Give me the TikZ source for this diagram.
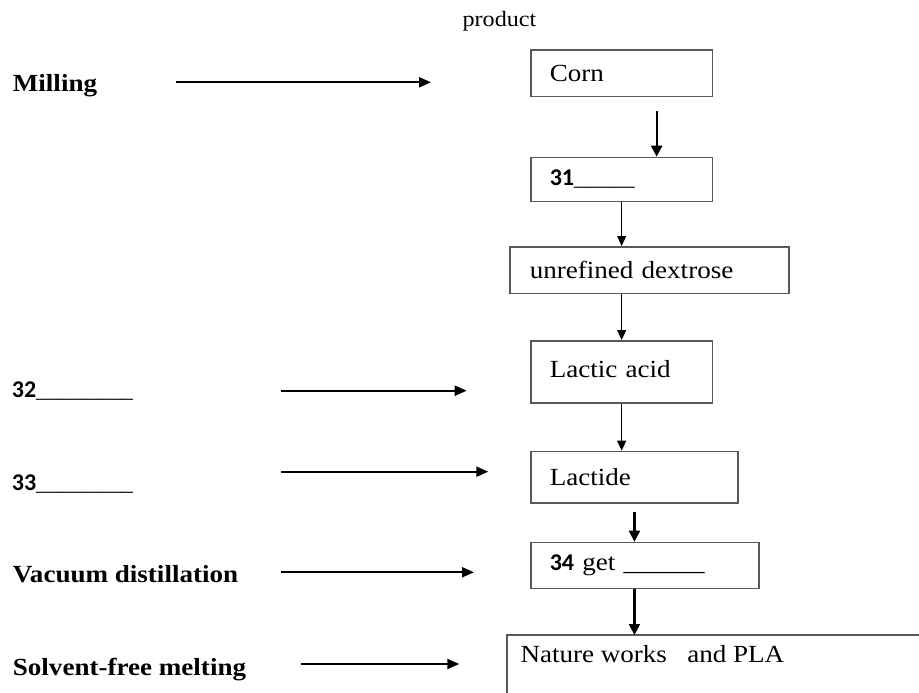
\documentclass[tikz,border=0pt]{standalone}
\usepackage{fontspec}
\setmainfont{Liberation Serif}[FakeStretch=1.1]
\newfontfamily\numfont{Carlito}
\usetikzlibrary{arrows.meta}
\newcommand{\numtxt}[1]{{\numfont\bfseries\fontsize{24}{26}\selectfont #1}}
\begin{document}
\begin{tikzpicture}[x=1pt,y=-1pt,
  boxline/.style={draw=black!65, line width=1.6pt},
  boxnode/.style={boxline, anchor=north west, inner xsep=19pt, inner ysep=0pt, align=left, font=\fontsize{24.6}{28}\selectfont},
  lbl/.style={anchor=base west, inner sep=0pt, font=\fontsize{24.6}{28}\selectfont\bfseries},
  numlbl/.style={anchor=base west, inner sep=0pt, font=\fontsize{22}{26}\selectfont},
  thinarr/.style={draw=black, line width=1pt, -{Triangle[length=10pt,width=9pt]}},
  thickarr/.style={draw=black, line width=2.1pt, -{Triangle[length=11pt,width=11pt]}},
  harr/.style={draw=black, line width=2pt, -{Triangle[length=12pt,width=10pt]}}
]
\useasboundingbox (0,0) rectangle (919,693);
\fill[white] (0,0) rectangle (919,693);
\clip (0,0) rectangle (919,693);

% title
\node[anchor=base west, inner sep=0pt, font=\fontsize{22}{26}\selectfont] (product) at (462.3,27) {product};

% boxes
\node[boxnode, text width=143.7pt, minimum height=46.4pt] (corn) at (530,49.3) {Corn};
\node[boxnode, text width=143.7pt, minimum height=44pt] (b31) at (530,156.7) {\numtxt{31}{\fontsize{22}{26}\selectfont\_\_\_\_\_}};
\node[boxnode, text width=239pt, inner xsep=20pt, minimum height=46.7pt] (dex) at (509,246) {unrefined dextrose};
\node[boxnode, text width=143.7pt, minimum height=62.3pt] (lactic) at (530,340) {\raisebox{6pt}{Lactic acid}};
\node[boxnode, text width=169.3pt, minimum height=51.6pt] (lactide) at (530,450.7) {Lactide};
\node[boxnode, text width=190.3pt, minimum height=46pt] (b34) at (530,541.7) {\numtxt{34} get \_\_\_\_\_\_};
\node[boxnode, draw=none, inner xsep=13pt, minimum height=36pt] (nature) at (506.7,635) {Nature works\ \ \ and PLA};
\draw[boxline] ([yshift=-120pt]nature.north west) -- (nature.north west) -- ([xshift=460pt]nature.north west);

% vertical connectors
\draw[thickarr] ([xshift=35pt,yshift=-14pt]corn.south) -- ([xshift=35pt]b31.north);
\draw[thinarr] (b31.south) -- (b31.south |- dex.north);
\draw[thinarr] (lactic.north |- dex.south) -- (lactic.north);
\draw[thinarr] (lactic.south) -- (lactic.south |- lactide.north);
\draw[thickarr] ([yshift=-8pt]lactide.south) -- (lactide.south |- b34.north);
\draw[thickarr] (lactide.south |- b34.south) -- (lactide.south |- nature.north);

% left labels
\node[lbl] (milling) at (12.7,91.7) {Milling};
\node[numlbl] (l32) at (11.7,397) {\numtxt{32}\_\_\_\_\_\_\_\_};
\node[numlbl] (l33) at (11.7,490.5) {\numtxt{33}\_\_\_\_\_\_\_\_};
\node[lbl] (vac) at (12.7,582.7) {Vacuum distillation};
\node[lbl] (sol) at (12.7,675) {Solvent-free melting};

% horizontal arrows
\coordinate (m1) at (176,82.3);   \coordinate (m2) at (431,82.3);
\coordinate (p1) at (280.7,390.7); \coordinate (p2) at (466.7,390.7);
\coordinate (q1) at (280.7,471.7); \coordinate (q2) at (488.3,471.7);
\coordinate (v1) at (280.7,572.3); \coordinate (v2) at (474,572.3);
\coordinate (s1) at (301,664);     \coordinate (s2) at (459.3,664);
\draw[harr] (m1) -- (m2);
\draw[harr] (p1) -- (p2);
\draw[harr] (q1) -- (q2);
\draw[harr] (v1) -- (v2);
\draw[harr] (s1) -- (s2);
\end{tikzpicture}
\end{document}
